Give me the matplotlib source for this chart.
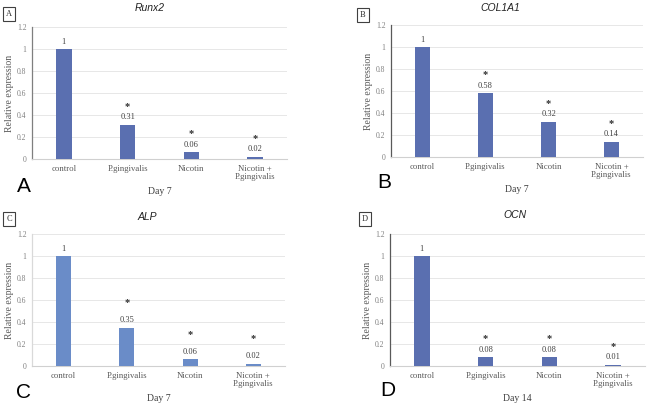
import matplotlib
matplotlib.use("Agg")
import matplotlib.pyplot as plt

categories = ["control", "P.gingivalis", "Nicotin", "Nicotin +\nP.gingivalis"]
runx2 = [1.0, 0.31, 0.06, 0.02]
col1a1 = [1.0, 0.58, 0.32, 0.14]
alp = [1.0, 0.35, 0.06, 0.02]
ocn = [1.0, 0.08, 0.08, 0.01]
value_labels = {
    "Runx2": ["1", "0.31", "0.06", "0.02"],
    "COL1A1": ["1", "0.58", "0.32", "0.14"],
    "ALP": ["1", "0.35", "0.06", "0.02"],
    "OCN": ["1", "0.08", "0.08", "0.01"],
}
panel_letters = ["A", "B", "C", "D"]
yticks = [0, 0.2, 0.4, 0.6, 0.8, 1, 1.2]
ytick_labels = ["0", "0.2", "0.4", "0.6", "0.8", "1", "1.2"]

SERIF = ["Liberation Serif", "DejaVu Serif"]
SANS = ["Liberation Sans", "DejaVu Sans"]

fig = plt.figure(figsize=(6.53, 4.13), dpi=100)

W, H = 653.0, 413.0

def px_axes(l, t, r, b):
    return fig.add_axes([l / W, 1 - b / H, (r - l) / W, (b - t) / H])

panels = [
    ("Runx2", runx2, (32, 27, 287, 159), "#5a6fb0", (9, 14), (17, 186), "Day 7", (150, 8), 0, "#7f7f7f"),
    ("COL1A1", col1a1, (391, 25, 643, 157), "#5a6fb0", (363, 15), (377, 183), "Day 7", (500, 8), 0, "#595959"),
    ("ALP", alp, (32, 234, 285, 366), "#6a8cc8", (9, 219), (16, 392), "Day 7", (147, 217), 5, "#d9d9d9"),
    ("OCN", ocn, (390, 234, 645, 366), "#5a6fb0", (365, 219), (380, 390), "Day 14", (515, 215), 0, "#595959"),
]

for k, (name, data, rect, color, boxpos, bigpos, xlab, tpos, astgap, lcol) in enumerate(panels):
    ax = px_axes(*rect)
    x = list(range(len(categories)))
    ax.bar(x, data, width=0.24, color=color, zorder=3)
    ax.set_xlim(-0.5, 3.5)
    ax.set_ylim(0, 1.2)
    ax.set_yticks(yticks)
    ax.set_yticklabels(ytick_labels, fontfamily=SERIF, fontsize=5.5, color="#7f7f7f")
    ax.set_xticks(x)
    ax.set_xticklabels(categories, fontfamily=SERIF, fontsize=6.3, color="#595959", linespacing=1.1)
    ax.tick_params(length=0, pad=4)
    ax.grid(axis="y", color="#e3e3e3", linewidth=0.6, zorder=0)
    for s in ["top", "right"]:
        ax.spines[s].set_visible(False)
    ax.spines["bottom"].set_color("#d0d0d0")
    ax.spines["bottom"].set_linewidth(0.8)
    ax.spines["left"].set_color(lcol)
    ax.spines["left"].set_linewidth(0.9)
    ax.set_ylabel("Relative expression", fontfamily=SERIF, fontsize=7, color="#595959", labelpad=2)
    ax.set_xlabel(xlab, fontfamily=SERIF, fontsize=7, color="#404040", labelpad=4)
    labels = value_labels[name]
    for i, v in enumerate(data):
        ax.annotate(labels[i], (i, v), xytext=(0, 2.5), textcoords="offset points",
                    ha="center", va="bottom", fontfamily=SERIF, fontsize=6, color="#404040")
        if i > 0:
            ax.annotate("*", (i, v), xytext=(0, 10 + astgap), textcoords="offset points",
                        ha="center", va="bottom", fontfamily=SERIF, fontsize=7.5, color="#303030",
                        fontweight="bold")
    fig.text(tpos[0] / W, 1 - tpos[1] / H, name, ha="center", va="center",
             fontfamily=SANS, fontstyle="italic", fontsize=7.5, color="#222222")
    fig.text(boxpos[0] / W, 1 - boxpos[1] / H, panel_letters[k],
             ha="center", va="center", fontfamily=SERIF, fontsize=6, color="#303030",
             bbox=dict(boxstyle="square,pad=0.35", facecolor="white", edgecolor="#404040", linewidth=0.8))
    fig.text(bigpos[0] / W, 1 - bigpos[1] / H, panel_letters[k],
             ha="left", va="center", fontfamily=SANS, fontsize=15, color="black")

fig.savefig("out.png", dpi=100)
